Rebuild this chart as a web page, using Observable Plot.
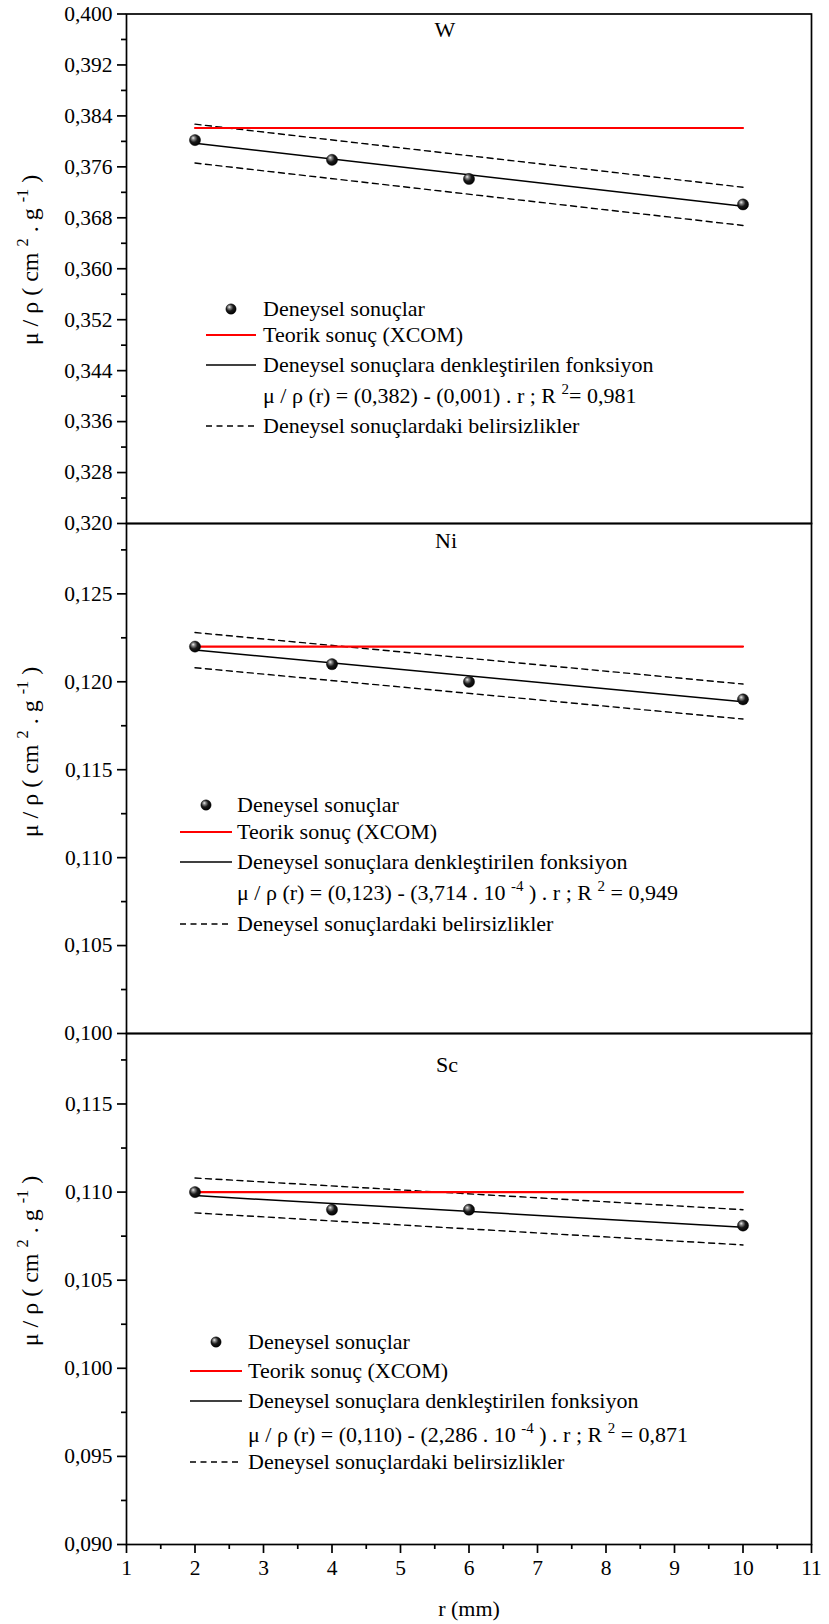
<!DOCTYPE html>
<html>
<head>
<meta charset="utf-8">
<script src="https://cdn.jsdelivr.net/npm/d3@7"></script>
<script src="https://cdn.jsdelivr.net/npm/@observablehq/plot@0.6"></script>
<style>
  html, body { margin: 0; padding: 0; background: #fff; }
  #chart { position: relative; width: 829px; height: 1624px; font-family: "Liberation Serif", "Times New Roman", serif; }
  #chart svg { position: absolute; left: 0; overflow: visible; }
</style>
</head>
<body>
<div id="chart"></div>
<script>
// ---------- data ----------
const radius = [2, 4, 6, 10];          // r (mm) of the measurements
const fitEnds = [2, 10];               // r range of fitted / theory / uncertainty lines

// W
const wMeasured = [0.3802, 0.3771, 0.3741, 0.3701];
const wTheory = 0.3821;
const wFit = [0.3797, 0.3698];
const wUpper = [0.3827, 0.3728];
const wLower = [0.3766, 0.3668];

// Ni
const niMeasured = [0.1220, 0.1210, 0.1200, 0.1190];
const niTheory = 0.1220;
const niFit = [0.12181, 0.11887];
const niUpper = [0.12280, 0.11987];
const niLower = [0.12080, 0.11788];

// Sc
const scMeasured = [0.1100, 0.1090, 0.1090, 0.1081];
const scTheory = 0.1100;
const scFit = [0.1098, 0.1080];
const scUpper = [0.1108, 0.1090];
const scLower = [0.10882, 0.1070];

// ticks
const xTicks = [1, 2, 3, 4, 5, 6, 7, 8, 9, 10, 11];
const xMinor = [1.5, 2.5, 3.5, 4.5, 5.5, 6.5, 7.5, 8.5, 9.5, 10.5];
const wTicks = [0.320, 0.328, 0.336, 0.344, 0.352, 0.360, 0.368, 0.376, 0.384, 0.392, 0.400];
const wMinor = [0.324, 0.332, 0.340, 0.348, 0.356, 0.364, 0.372, 0.380, 0.388, 0.396];
const niTicks = [0.100, 0.105, 0.110, 0.115, 0.120, 0.125];
const niMinor = [0.1025, 0.1075, 0.1125, 0.1175, 0.1225, 0.1275];
const scTicks = [0.090, 0.095, 0.100, 0.105, 0.110, 0.115];
const scMinor = [0.0925, 0.0975, 0.1025, 0.1075, 0.1125, 0.1175];
const wDomain = [0.320, 0.400];
const niDomain = [0.100, 0.129];
const scDomain = [0.090, 0.119];

// text
const titles = ["W", "Ni", "Sc"];
const legendTexts = ["Deneysel sonuçlar", "Teorik sonuç (XCOM)", "Deneysel sonuçlara denkleştirilen fonksiyon", null, "Deneysel sonuçlardaki belirsizlikler"];
const wFormula = [["μ / ρ (r) = (0,382) - (0,001) . r ; R ", 0], ["2", 1], ["= 0,981", 0]];
const niFormula = [["μ / ρ (r) = (0,123) - (3,714 . 10 ", 0], ["-4", 1], [" ) . r ; R ", 0], ["2", 1], [" = 0,949", 0]];
const scFormula = [["μ / ρ (r) = (0,110) - (2,286 . 10 ", 0], ["-4", 1], [" ) . r ; R ", 0], ["2", 1], [" = 0,871", 0]];
const yLabel = [["μ / ρ ( cm ", 0], ["2", 1], [" . g ", 0], ["-1", 1], [" )", 0]];
const xLabel = "r (mm)";

// ---------- drawing ----------
const SERIF = '"Liberation Serif", "Times New Roman", serif';
const fmt = d => d.toFixed(3).replace(".", ",");
const chart = document.getElementById("chart");

function richText(sel, parts, size) {
  let shift = 0;
  parts.forEach(([t, sup]) => {
    const target = sup ? -size * 0.42 : 0;
    sel.append("tspan")
      .attr("dy", target - shift)
      .attr("font-size", sup ? size * 0.68 : size)
      .text(t);
    shift = target;
  });
}

function panel(cfg) {
  const rows = (arr) => fitEnds.map((x, i) => ({x, y: arr[i]}));
  const pts = radius.map((x, i) => ({x, y: cfg.measured[i]}));
  const theoryRows = fitEnds.map(x => ({x, y: cfg.theory}));
  const dashed = {x: "x", y: "y", stroke: "black", strokeWidth: 1.4, strokeDasharray: "6,4.5"};
  const marks = [
    Plot.line(rows(cfg.upper), dashed),
    Plot.line(rows(cfg.lower), dashed),
    Plot.line(theoryRows, {x: "x", y: "y", stroke: "#ff0000", strokeWidth: 2.2}),
    Plot.line(rows(cfg.fit), {x: "x", y: "y", stroke: "black", strokeWidth: 1.5}),
    Plot.dot(pts, {x: "x", y: "y", r: 5.6, fill: `url(#${cfg.id}-ball)`, stroke: "#000", strokeWidth: 0.4}),
    Plot.frame({stroke: "black", strokeWidth: 1.7}),
    Plot.axisY(cfg.ticks, {tickSize: 9, tickPadding: 5, tickFormat: fmt, strokeWidth: 1.7, fontSize: 21.5, label: null}),
    Plot.axisY(cfg.minor, {tickSize: 5, tickFormat: () => "", strokeWidth: 1.7, label: null})
  ];
  if (cfg.showX) {
    marks.push(
      Plot.axisX(xTicks, {anchor: "bottom", tickSize: 9, tickPadding: 6, strokeWidth: 1.7, fontSize: 21.5, label: null}),
      Plot.axisX(xMinor, {anchor: "bottom", tickSize: 5, tickFormat: () => "", strokeWidth: 1.7, label: null})
    );
  }
  const svg = Plot.plot({
    width: 829,
    height: cfg.height,
    marginLeft: 126,
    marginRight: 18,
    marginTop: cfg.marginTop,
    marginBottom: cfg.marginBottom,
    x: {domain: [1, 11], axis: null},
    y: {domain: cfg.domain, axis: null},
    style: {background: "transparent", overflow: "visible", fontFamily: SERIF, color: "black"},
    marks
  });
  svg.style.top = cfg.top + "px";
  const s = d3.select(svg);
  s.insert("defs", ":first-child").html(
    `<radialGradient id="${cfg.id}-ball" cx="0.42" cy="0.4" r="0.62" fx="0.33" fy="0.3">
       <stop offset="0" stop-color="#f2f2f2"/>
       <stop offset="0.22" stop-color="#8a8a8a"/>
       <stop offset="0.55" stop-color="#1a1a1a"/>
       <stop offset="1" stop-color="#000"/>
     </radialGradient>`);
  const g = s.append("g").attr("font-family", SERIF).attr("fill", "black").attr("text-anchor", "start");
  const T = cfg.top;
  // title
  g.append("text").attr("x", cfg.titleX).attr("y", cfg.titleY - T + 7.5)
    .attr("text-anchor", "middle").attr("font-size", 22).text(cfg.title);
  // y label
  const yl = g.append("text")
    .attr("transform", `translate(38,${cfg.yLabelY - T}) rotate(-90)`)
    .attr("text-anchor", "middle").attr("font-size", 24);
  richText(yl, yLabel, 24);
  // legend
  const L = cfg.legend;
  const r = L.rows.map(v => v - T);
  g.append("circle").attr("cx", L.sx).attr("cy", r[0]).attr("r", 5.2).attr("fill", `url(#${cfg.id}-ball)`).attr("stroke", "#000").attr("stroke-width", 0.4);
  g.append("line").attr("x1", L.lx1).attr("x2", L.lx2).attr("y1", r[1]).attr("y2", r[1]).attr("stroke", "#ff0000").attr("stroke-width", 2.2);
  g.append("line").attr("x1", L.lx1).attr("x2", L.lx2).attr("y1", r[2]).attr("y2", r[2]).attr("stroke", "#000").attr("stroke-width", 1.5);
  g.append("line").attr("x1", L.lx1).attr("x2", L.lx2).attr("y1", r[4]).attr("y2", r[4]).attr("stroke", "#000").attr("stroke-width", 1.4).attr("stroke-dasharray", "6,4.5");
  legendTexts.forEach((t, i) => {
    const el = g.append("text").attr("x", L.tx).attr("y", r[i] + 7).attr("font-size", 22).attr("text-anchor", "start");
    if (t === null) richText(el, cfg.formula, 22);
    else el.text(t);
  });
  if (cfg.showX) {
    g.append("text").attr("x", 469).attr("y", 1616 - T).attr("text-anchor", "middle").attr("font-size", 22).text(xLabel);
  }
  chart.appendChild(svg);
}

panel({id: "w", top: 0, height: 523, marginTop: 13.5, marginBottom: 0, domain: wDomain, ticks: wTicks, minor: wMinor,
  measured: wMeasured, theory: wTheory, fit: wFit, upper: wUpper, lower: wLower, formula: wFormula,
  title: titles[0], titleX: 445, titleY: 29, yLabelY: 260,
  legend: {sx: 231, lx1: 206, lx2: 256, tx: 263, rows: [309, 335, 365, 396, 426]}, showX: false});

panel({id: "ni", top: 523, height: 510, marginTop: 0, marginBottom: 0, domain: niDomain, ticks: niTicks, minor: niMinor,
  measured: niMeasured, theory: niTheory, fit: niFit, upper: niUpper, lower: niLower, formula: niFormula,
  title: titles[1], titleX: 446, titleY: 540, yLabelY: 752,
  legend: {sx: 206, lx1: 180, lx2: 232, tx: 237, rows: [805, 832, 862, 893, 924]}, showX: false});

panel({id: "sc", top: 1033, height: 591, marginTop: 0, marginBottom: 80, domain: scDomain, ticks: scTicks, minor: scMinor,
  measured: scMeasured, theory: scTheory, fit: scFit, upper: scUpper, lower: scLower, formula: scFormula,
  title: titles[2], titleX: 447, titleY: 1064, yLabelY: 1261,
  legend: {sx: 216, lx1: 190, lx2: 242, tx: 248, rows: [1342, 1371, 1401, 1435, 1462]}, showX: true});
</script>
</body>
</html>
